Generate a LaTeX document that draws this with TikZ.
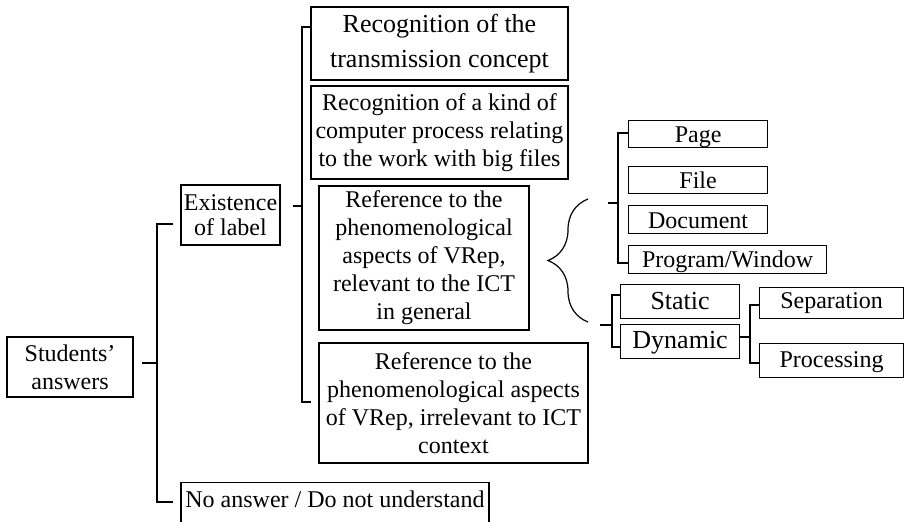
\documentclass[tikz,border=0pt]{standalone}
\usepackage{fontspec}
\setmainfont{Liberation Serif}
\usetikzlibrary{decorations.pathreplacing}
\newcommand\pxu{0.75pt}
\begin{document}
\begin{tikzpicture}[x=0.75pt,y=-0.75pt,line width=0.9pt,
  box/.style={draw,inner sep=0pt,align=center,font=\fontsize{18}{21}\selectfont},
  bigbox/.style={box,font=\fontsize{19.5}{26}\selectfont},
  midbox/.style={box,font=\fontsize{19.5}{21}\selectfont},
  line/.style={box,anchor=north west}]
\useasboundingbox (0,0) rectangle (905,521);
\clip (0,0) rectangle (905,521);
% level 0 and 1
\node[box,minimum width=126*\pxu,minimum height=60*\pxu] (sa) at (70,367) {Students’\\answers};
\node[box,font=\fontsize{18}{19}\selectfont,minimum width=99*\pxu,minimum height=60*\pxu] (ex) at (230.5,215) {Existence\\of label};
\node[draw,anchor=north,inner sep=0pt,font=\fontsize{18}{21}\selectfont,minimum width=308*\pxu,text height=25*\pxu,text depth=40*\pxu] (na) at (335,482) {No answer / Do not understand};
% level 2
\node[bigbox,minimum width=257*\pxu,minimum height=73*\pxu] (r1) at (439.5,43.5) {Recognition of the\\transmission concept};
\node[box,minimum width=257*\pxu,minimum height=93*\pxu] (r2) at (439.5,132.5) {Recognition of a kind of\\computer process relating\\to the work with big files};
\node[box,minimum width=210*\pxu,minimum height=144*\pxu] (r3) at (424,258) {Reference to the\\phenomenological\\aspects of VRep,\\relevant to the ICT\\in general};
\node[box,minimum width=269*\pxu,minimum height=120*\pxu] (r4) at (453.5,403) {Reference to the\\phenomenological aspects\\of VRep, irrelevant to ICT\\context};
% level 3
\node[line,minimum width=139*\pxu,text height=22*\pxu,text depth=5*\pxu] (pg) at (628,120) {Page};
\node[line,minimum width=139*\pxu,text height=22*\pxu,text depth=5*\pxu] (fi) at (628,166) {File};
\node[line,minimum width=139*\pxu,text height=23*\pxu,text depth=5*\pxu] (dc) at (628,205) {Document};
\node[line,minimum width=198*\pxu,text height=22*\pxu,text depth=6*\pxu] (pw) at (628,245) {Program/Window};
\node[line,font=\fontsize{19.5}{21}\selectfont,minimum width=119*\pxu,text height=25*\pxu,text depth=9*\pxu] (st) at (620,284) {Static};
\node[line,font=\fontsize{19.5}{21}\selectfont,minimum width=119*\pxu,text height=24*\pxu,text depth=10*\pxu] (dy) at (620,324) {Dynamic};
\node[line,minimum width=144*\pxu,text height=21*\pxu,text depth=10*\pxu] (sp) at (759,287) {Separation};
\node[line,minimum width=144*\pxu,text height=24*\pxu,text depth=10*\pxu] (pr) at (759,343) {Processing};
% connectors
\coordinate (v1t) at (157,224);
\coordinate (v1b) at (157,502);
\draw (142,363) -- (157,363);
\draw ([xshift=-7*\pxu]ex.west |- v1t) -- (v1t) -- (v1b) -- ([xshift=-7*\pxu]na.west |- v1b);
\coordinate (v2t) at (302,27);
\coordinate (v2b) at (302,402);
\draw ([xshift=12*\pxu]ex.east |- 0,206) -- (302,206);
\draw (r1.west |- v2t) -- (v2t) -- (v2b) -- ([xshift=-7*\pxu]r4.west |- v2b);
\draw[decorate,decoration={brace,amplitude=30pt}] (588,322) -- (588,199);
\coordinate (v3t) at (618,133);
\coordinate (v3b) at (618,263);
\draw (608,203) -- (618,203);
\draw (pg.west |- v3t) -- (v3t) -- (v3b) -- (pw.west |- v3b);
\coordinate (v4t) at (612,295);
\coordinate (v4b) at (612,347);
\draw (600,325) -- (612,325);
\draw (st.west |- v4t) -- (v4t) -- (v4b) -- (dy.west |- v4b);
\coordinate (v5t) at (750,305);
\coordinate (v5b) at (750,363);
\draw (dy.east |- 0,337) -- (750,337);
\draw (sp.west |- v5t) -- (v5t) -- (v5b) -- (pr.west |- v5b);
\end{tikzpicture}
\end{document}
